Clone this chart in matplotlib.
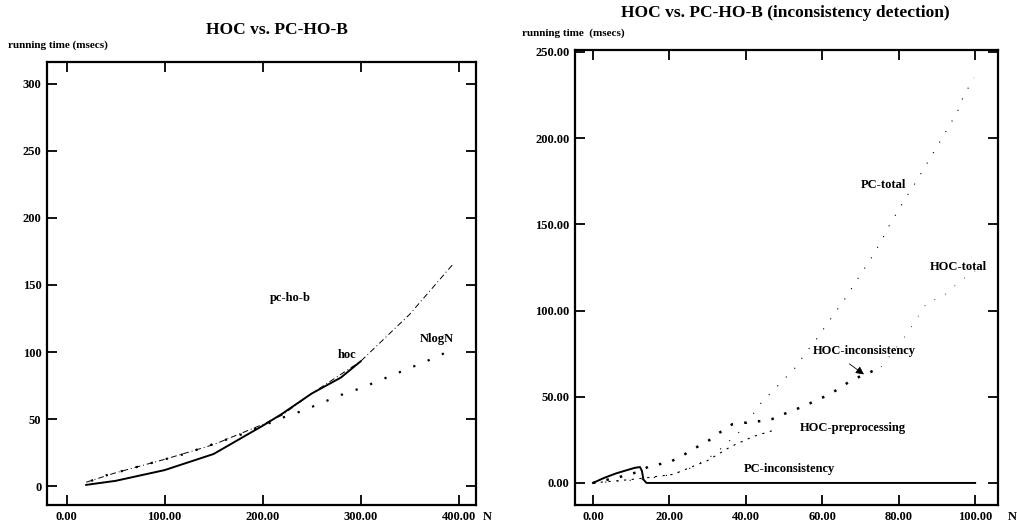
import matplotlib
matplotlib.use('Agg')
import matplotlib.pyplot as plt
from matplotlib.ticker import FormatStrFormatter

# --- left panel: HOC vs PC-HO-B running time
hoc_n = [20, 40, 50, 100, 150, 200, 220, 250, 280, 300]
hoc_t = [1, 3, 4, 12, 24, 45, 54, 69, 81, 93]

pchob_n = [20, 50, 100, 150, 200, 220, 250, 300, 350, 395]
pchob_t = [3, 10, 20, 31, 46, 53, 69, 93, 128, 166]

nlogn_n = [25, 40, 60, 80, 100, 120, 140, 160, 180, 200,
           220, 240, 260, 280, 300, 320, 340, 360, 380, 395]
nlogn_t = [4, 8, 12, 16, 20, 24, 29, 34, 39, 45,
           51, 56, 62, 68, 73, 79, 85, 91, 97, 103]

# --- right panel: inconsistency detection
pc_inc_n = [0, 3, 6, 9, 11, 12.3, 12.8, 13.2, 14, 20, 40, 60, 80, 100]
pc_inc_t = [0, 3, 5.5, 7.5, 8.8, 9.2, 7, 2, 0, 0, 0, 0, 0, 0]

pc_tot_n = [0, 13, 21, 26, 30, 33, 36, 39, 44.5, 46, 53, 55.5, 58, 61.5,
            66, 68.3, 72.7, 75.6, 77.7, 79.6, 81.7, 83.8, 90, 95.3, 96.9, 97.9, 99.7]
pc_tot_t = [0, 2, 5, 9, 14, 19, 25, 31, 48, 51, 67, 75, 82, 93,
            107, 115, 130, 141, 150, 157, 165, 172, 195, 215, 224, 228, 235]

hoc_inc_n = [0, 4, 8, 12, 14.4, 16.7, 18.6, 20.7, 22.7, 25.9, 27.7, 29.8, 33,
             36.4, 42, 44.5, 46.8, 50, 54, 57.6, 61, 64.7, 67.8, 71, 75.4]
hoc_inc_t = [0, 2, 4, 6.5, 9.3, 10.4, 11.6, 12.8, 15, 19, 21.5, 23.8, 29,
             34, 35.5, 36, 37, 40, 43.5, 47, 50.5, 55, 60, 62.6, 67.3]

hoc_pre_n = [0, 5, 10, 14, 21, 30, 36, 42, 48]
hoc_pre_t = [0, 1, 2, 3, 5, 13, 21, 27, 31]

hoc_tot_n = [75.4, 82, 87.7, 91, 96, 100]
hoc_tot_t = [67.3, 86, 105.6, 107, 117, 123]

serif = ['Liberation Serif', 'DejaVu Serif']
plt.rc('font', family=serif, weight='bold')
ftsize = 9

fig = plt.figure(figsize=(10.17, 5.21), dpi=100)

def style_axes(ax):
    for s in ax.spines.values():
        s.set_linewidth(1.6)
    ax.tick_params(direction='in', length=7, width=1.3,
                   top=True, right=True, labelsize=9, pad=4)
    for lab in ax.get_xticklabels() + ax.get_yticklabels():
        lab.set_fontweight('bold')

# left axes
ax0 = fig.add_axes([0.0462, 0.0307, 0.422, 0.850])
ax0.plot(hoc_n, hoc_t, color='black', lw=1.4)
ax0.plot(pchob_n, pchob_t, color='black', lw=0.7, ls=(0, (6, 3, 1, 3)))
ax0.plot(nlogn_n, nlogn_t, color='black', lw=1.6, ls=(0, (1, 6)))
ax0.set_xlim(-20, 418)
ax0.set_ylim(-14, 316)
ax0.set_xticks([0, 100, 200, 300, 400])
ax0.set_yticks([0, 50, 100, 150, 200, 250, 300])
ax0.xaxis.set_major_formatter(FormatStrFormatter('%.2f'))
ax0.yaxis.set_major_formatter(FormatStrFormatter('%d'))
style_axes(ax0)
ax0.text(228, 140, 'pc-ho-b', fontsize=ftsize, ha='center', va='center')
ax0.text(286, 98, 'hoc', fontsize=ftsize, ha='center', va='center')
ax0.text(378, 110, 'NlogN', fontsize=ftsize, ha='center', va='center')

fig.text(277 / 1017, 1 - 30 / 521, 'HOC vs. PC-HO-B', fontsize=12.5,
         ha='center', va='center', fontweight='bold')
fig.text(8 / 1017, 1 - 45 / 521, 'running time (msecs)', fontsize=8,
         ha='left', va='center')
fig.text(487 / 1017, 1 - 517 / 521, 'N', fontsize=ftsize, ha='center', va='center')

# right axes
ax1 = fig.add_axes([0.5654, 0.0307, 0.416, 0.873])
ax1.plot(pc_inc_n, pc_inc_t, color='black', lw=1.4)
ax1.plot(pc_tot_n, pc_tot_t, color='black', lw=0.8, ls=(0, (1, 10)))
ax1.plot(hoc_inc_n, hoc_inc_t, color='black', lw=1.8, ls=(0, (1, 4.5)))
ax1.plot(hoc_pre_n, hoc_pre_t, color='black', lw=0.8, ls=(0, (2, 5)))
ax1.plot(hoc_tot_n, hoc_tot_t, color='black', lw=0.6, ls=(0, (1, 14)))
ax1.annotate('', xy=(71.5, 62), xytext=(66.5, 70),
             arrowprops=dict(arrowstyle='-|>', color='black', lw=0.6,
                             mutation_scale=12))
ax1.set_xlim(-4.7, 106)
ax1.set_ylim(-12.8, 251)
ax1.set_xticks([0, 20, 40, 60, 80, 100])
ax1.set_yticks([0, 50, 100, 150, 200, 250])
ax1.xaxis.set_major_formatter(FormatStrFormatter('%.2f'))
ax1.yaxis.set_major_formatter(FormatStrFormatter('%.2f'))
style_axes(ax1)
ax1.text(76, 173, 'PC-total', fontsize=ftsize, ha='center', va='center')
ax1.text(95.5, 125, 'HOC-total', fontsize=ftsize, ha='center', va='center')
ax1.text(71, 76.6, 'HOC-inconsistency', fontsize=ftsize, ha='center', va='center')
ax1.text(68, 32, 'HOC-preprocessing', fontsize=ftsize, ha='center', va='center')
ax1.text(51.5, 8, 'PC-inconsistency', fontsize=ftsize, ha='center', va='center')

fig.text(785 / 1017, 1 - 13 / 521, 'HOC vs. PC-HO-B (inconsistency detection)',
         fontsize=12.5, ha='center', va='center', fontweight='bold')
fig.text(522 / 1017, 1 - 33 / 521, 'running time  (msecs)', fontsize=8,
         ha='left', va='center')
fig.text(1012 / 1017, 1 - 517 / 521, 'N', fontsize=ftsize, ha='center', va='center')

fig.savefig('out.png', dpi=100)
